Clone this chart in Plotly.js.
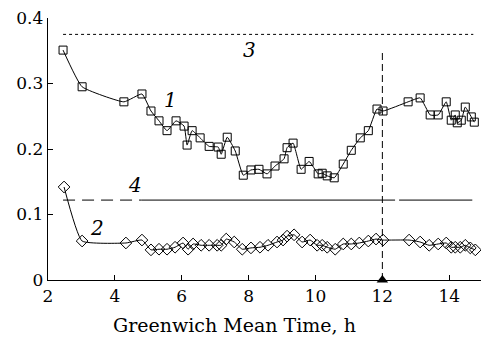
<!DOCTYPE html>
<html><head><meta charset="utf-8">
<script src="https://cdn.plot.ly/plotly-3.0.1.min.js"></script>
<style>html,body{margin:0;padding:0;background:#fff}#c{width:481px;height:338px}</style>
</head><body><div id="c"></div>
<script>
const t1 = [2.45,3.02,4.27,4.81,5.08,5.32,5.56,5.83,6.07,6.16,6.31,6.55,6.82,7.09,7.18,7.36,7.60,7.84,8.07,8.31,8.55,8.79,9.06,9.15,9.33,9.57,9.81,10.08,10.20,10.35,10.56,10.83,11.07,11.34,11.58,11.84,12.02,12.77,13.13,13.43,13.67,13.91,14.06,14.18,14.24,14.36,14.48,14.66,14.75];
const aod1 = [0.351,0.295,0.272,0.284,0.258,0.243,0.228,0.243,0.235,0.206,0.228,0.217,0.204,0.203,0.192,0.218,0.197,0.160,0.168,0.169,0.162,0.174,0.185,0.202,0.209,0.169,0.181,0.162,0.163,0.159,0.156,0.177,0.198,0.217,0.228,0.261,0.258,0.272,0.278,0.252,0.252,0.272,0.244,0.252,0.240,0.244,0.264,0.249,0.241];
const t2 = [2.48,3.02,4.33,4.81,5.08,5.32,5.56,5.80,6.04,6.19,6.34,6.58,6.82,7.06,7.18,7.33,7.57,7.81,8.07,8.34,8.58,8.85,9.03,9.15,9.36,9.60,9.84,10.05,10.20,10.35,10.59,10.83,11.07,11.31,11.58,11.81,12.02,12.80,13.13,13.40,13.67,13.91,14.06,14.18,14.33,14.48,14.63,14.78];
const aod2 = [0.142,0.0595,0.0565,0.061,0.046,0.047,0.047,0.050,0.0565,0.047,0.055,0.053,0.053,0.053,0.053,0.0625,0.058,0.047,0.049,0.050,0.053,0.058,0.061,0.067,0.069,0.058,0.061,0.053,0.053,0.050,0.047,0.055,0.055,0.0565,0.0595,0.0625,0.061,0.061,0.058,0.053,0.055,0.0565,0.050,0.050,0.050,0.053,0.049,0.046];
// line 3 (dotted), line 4 (dashed then solid, with a gap)
const line3X = [2.45, 14.72];
const line3Y = [0.375, 0.375];
const line4DashX = [2.45, 4.79];
const line4SolidAX = [4.79, 12.38];
const line4SolidBX = [12.50, 14.69];
const line4Y = 0.122;
const markT = [12, 12];
const markY = [0, 0.348];
const xTicks = [2,4,6,8,10,12,14];
const yTicks = [0,0.1,0.2,0.3,0.4];
const xTitle = 'Greenwich Mean Time, h';

const F = "DejaVu Serif, serif";
const blk = '#000';
const traces = [
  {x:t1, y:aod1, mode:'lines+markers', line:{color:blk,width:1,shape:'spline',smoothing:0.4},
   marker:{symbol:'square-open',size:8,color:blk,line:{width:1}}, cliponaxis:false},
  {x:t2, y:aod2, mode:'lines+markers', line:{color:blk,width:1,shape:'spline',smoothing:0.4},
   marker:{symbol:'diamond-open',size:9,color:blk,line:{width:1}}, cliponaxis:false},
  {x:line3X, y:line3Y, mode:'lines', line:{color:blk,width:1,dash:'3px,3px'}},
  {x:line4DashX, y:[line4Y,line4Y], mode:'lines', line:{color:blk,width:1,dash:'12px,7px'}},
  {x:line4SolidAX, y:[line4Y,line4Y], mode:'lines', line:{color:blk,width:1}},
  {x:line4SolidBX, y:[line4Y,line4Y], mode:'lines', line:{color:blk,width:1}},
  {x:markT, y:markY, mode:'lines', line:{color:blk,width:1,dash:'7px,4px'}},
  {x:[markT[0]], y:[markY[0]], mode:'markers', marker:{symbol:'triangle-up',size:10,color:blk}, cliponaxis:false}
];
const ann = (x,y,text,italic)=>({x,y,xref:'x',yref:'y',text,showarrow:false,
  font:{family:F,size:italic?20:18,color:blk,style:italic?'italic':'normal'}});
const layout = {
  width:481, height:338, showlegend:false,
  margin:{l:48,r:0,t:18,b:58},
  paper_bgcolor:'#fff', plot_bgcolor:'#fff',
  font:{family:F,size:17,color:blk},
  xaxis:{range:[2,14.95], tickvals:xTicks, ticks:'inside', ticklen:5, tickcolor:blk,
    showline:true, linecolor:blk, linewidth:1.3, showgrid:false, zeroline:false,
    tickfont:{family:F,size:17,color:blk}},
  yaxis:{range:[0,0.4], tickvals:yTicks, ticks:'inside', ticklen:5, tickcolor:blk,
    showline:true, linecolor:blk, linewidth:1.3, showgrid:false, zeroline:false,
    tickfont:{family:F,size:17,color:blk}},
  annotations:[
    ann(3.12,0.403,'AOD',false),
    ann(5.65,0.275,'1',true),
    ann(3.47,0.079,'2',true),
    ann(8.04,0.351,'3',true),
    ann(4.60,0.145,'4',true),
    {x:0.4296, y:-0.172, xref:'paper', yref:'paper', xanchor:'center', yanchor:'middle',
     text:xTitle, showarrow:false, font:{family:F,size:19,color:blk}}
  ]
};
Plotly.newPlot('c', traces, layout, {staticPlot:true});
</script></body></html>
